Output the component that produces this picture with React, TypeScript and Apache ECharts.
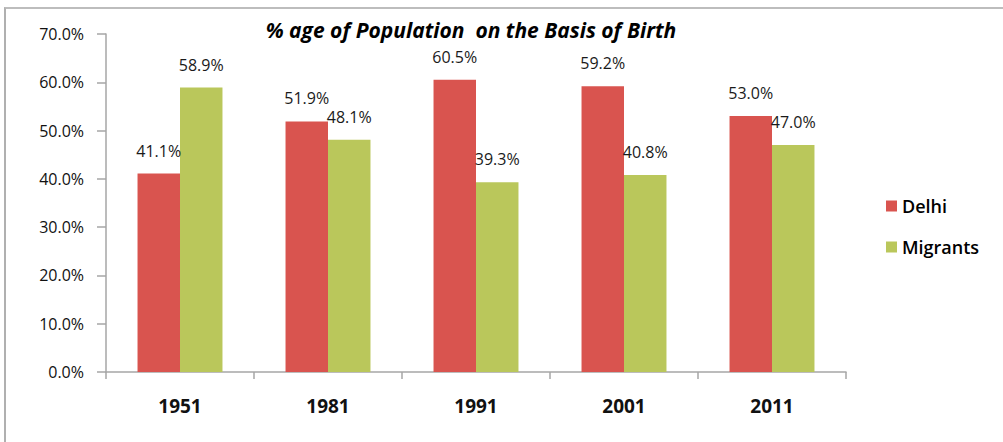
import React, { useEffect, useRef } from "react";
import * as echarts from "echarts";

const categories = ["1951", "1981", "1991", "2001", "2011"];
const delhi = [41.1, 51.9, 60.5, 59.2, 53.0];
const migrants = [58.9, 48.1, 39.3, 40.8, 47.0];
const yTicks = { min: 0, max: 70, interval: 10 };
const titleText = "% age of Population  on the Basis of Birth";

const FONT = "'Open Sans', 'Noto Sans', sans-serif";

export default function App() {
  const ref = useRef<HTMLDivElement>(null);
  useEffect(() => {
    if (!ref.current) return;
    const chart = echarts.init(ref.current, undefined, { renderer: "svg" });
    const labelCfg = {
      show: true,
      position: "top",
      distance: 15,
      fontFamily: FONT,
      fontSize: 16,
      color: "#1a1a1a",
      formatter: (p: any) => Number(p.value).toFixed(1) + "%",
    };
    chart.setOption({
      animation: false,
      backgroundColor: "transparent",
      textStyle: { fontFamily: FONT },
      grid: { left: 106, top: 34, right: 157, bottom: 70, containLabel: false },
      graphic: [
        {
          type: "text",
          x: 471,
          y: 30,
          style: {
            text: titleText,
            fontFamily: FONT,
            fontSize: 21,
            fontWeight: "bold",
            fontStyle: "italic",
            fill: "#000",
            textAlign: "center",
            textVerticalAlign: "middle",
          },
        },
      ],
      legend: {
        orient: "vertical",
        left: 881,
        top: 192,
        itemWidth: 11,
        itemHeight: 11,
        itemGap: 23,
        icon: "rect",
        textStyle: { fontFamily: FONT, fontSize: 18, fontWeight: 600, color: "#000", padding: [0, 0, 0, 0] },
        data: ["Delhi", "Migrants"],
      },
      xAxis: {
        type: "category",
        data: categories,
        axisLine: { show: true, lineStyle: { color: "#A6A6A6", width: 1.5 } },
        axisTick: { show: true, length: 7, lineStyle: { color: "#A6A6A6", width: 1.5 } },
        axisLabel: { fontFamily: FONT, fontSize: 19, fontWeight: "bold", color: "#111", margin: 24 },
      },
      yAxis: {
        type: "value",
        min: yTicks.min,
        max: yTicks.max,
        interval: yTicks.interval,
        splitLine: { show: false },
        axisLine: { show: true, lineStyle: { color: "#A6A6A6", width: 1.5 } },
        axisTick: { show: true, length: 9, lineStyle: { color: "#A6A6A6", width: 1.5 } },
        axisLabel: {
          fontFamily: FONT,
          fontSize: 16,
          color: "#111",
          margin: 22,
          formatter: (v: number) => v.toFixed(1) + "%",
        },
      },
      series: [
        {
          name: "Delhi",
          type: "bar",
          data: delhi,
          barGap: "0%",
          barCategoryGap: "42.6%",
          itemStyle: { color: "#D9544F" },
          label: labelCfg,
        },
        {
          name: "Migrants",
          type: "bar",
          data: migrants,
          barGap: "0%",
          barCategoryGap: "42.6%",
          itemStyle: { color: "#BAC75B" },
          label: labelCfg,
        },
      ],
    });
    return () => chart.dispose();
  }, []);
  return (
    <div
      style={{
        position: "fixed",
        left: 0,
        top: 0,
        width: 1003,
        height: 442,
        background: "#fff",
        overflow: "hidden",
      }}
    >
      <div
        style={{
          position: "absolute",
          left: 4,
          top: 7,
          width: 1100,
          height: 500,
          borderLeft: "2px solid #B0B0B0",
          borderTop: "2px solid #BDBDBD",
          boxSizing: "border-box",
          pointerEvents: "none",
        }}
      />
      <div ref={ref} style={{ position: "absolute", left: 0, top: 0, width: 1003, height: 442 }} />
    </div>
  );
}
